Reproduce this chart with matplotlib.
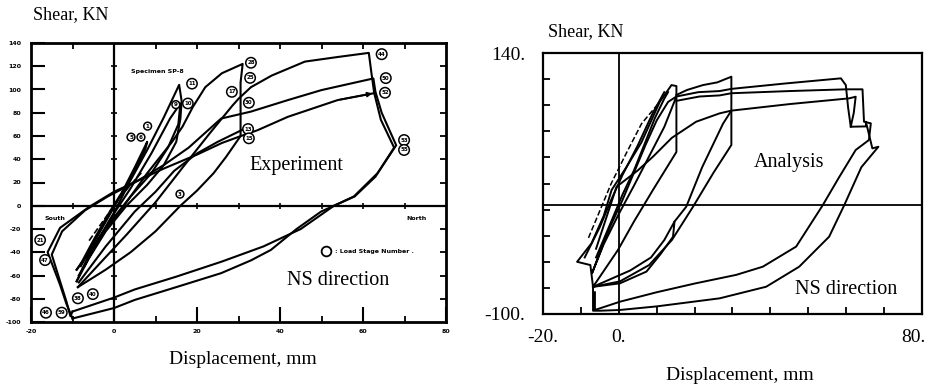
import matplotlib.pyplot as plt
import matplotlib.transforms as mtransforms
import numpy as np

plt.rcParams['font.family'] = ['Liberation Serif', 'DejaVu Serif']

# ---------------- experiment (left) : displacement mm, shear kN ----------------
exp_c1 = [(-8, -50), (-5, -30), (-1, -5), (2, 12), (5, 33), (8, 55), (7.5, 48), (5, 30),
          (1, 5), (-3, -20), (-8, -52)]
exp_c2 = [(-8.5, -60), (-5, -38), (0, -6), (4, 22), (8, 48), (12, 76), (15.7, 104), (16.3, 90),
          (16, 75), (15, 55), (12, 35), (8, 18), (3, 0), (-2, -22), (-6, -45), (-9, -65)]
exp_c3 = [(-9, -65), (-6, -42), (-1, -12), (4, 15), (9, 45), (13.5, 75), (16, 88), (15.5, 70),
          (13, 50), (9, 28), (4, 8), (0, -10), (-5, -35), (-9, -55)]
exp_c4 = [(-9, -55), (-4, -30), (2, -2), (8, 28), (14, 55), (16.5, 68), (19, 85), (22, 102),
          (26, 114), (31, 122), (30.5, 106), (30.5, 90), (30.5, 75), (30.5, 60), (27, 42),
          (24, 28), (20, 13), (16, 0), (10, -22), (4, -40), (-2, -55), (-8.7, -70)]
exp_c5 = [(-8.7, -70), (-3, -48), (3, -25), (10, 3), (17, 35), (23, 62), (28.5, 86), (30, 92),
          (33, 102), (38, 112), (46, 124), (54, 128), (61.4, 131.5), (62, 115), (62.7, 97),
          (64.3, 74), (67.5, 50), (63, 25), (58, 8), (53, 0), (45, -20), (36, -35), (26, -48),
          (15, -61), (5, -72), (0, -79), (-10, -91)]
exp_c6 = [(-10, -91), (-10.5, -95), (-11.5, -82), (-13, -65), (-15, -42), (-12.5, -22), (-7, -4),
          (-1.5, 8), (5, 20), (12, 35), (18, 50), (25.8, 75), (33, 81), (42, 91), (50, 99.5),
          (62.5, 109.5), (63, 98), (64.5, 80), (66, 68), (68, 52), (63.5, 28), (57.8, 8), (53, 0),
          (49.9, -5), (44, -20), (37.8, -38), (33, -47), (25.8, -58), (15, -70), (5, -81),
          (0, -88), (-10, -97)]
exp_c7 = [(-10, -97), (-11.5, -84), (-13, -68), (-16, -40), (-13, -19), (-6, -1), (0, 12),
          (6, 22), (12, 32), (20, 44), (26, 54), (30.6, 60), (34.6, 65), (41.9, 76.5),
          (53.9, 90.9), (62.9, 97)]
exp_c8 = [(-8.5, -66), (-2, -35), (5, -5), (10, 12), (14.5, 30), (20, 45), (25, 55), (31.3, 66)]
exp_dash = [(-6, -30), (-2, -10), (1, 5), (4, 18), (7, 30)]

stage_labels = ['11', '9', '10', '1', '5', '6', '28', '25', '17', '30', '13', '15', '44', '50',
                '52', '53', '55', '3', '21', '47', '38', '40', '46', '59']
stage_xy = [(18.8, 105), (14.9, 87), (17.8, 88), (8.1, 68.5), (4.1, 59), (6.5, 59), (33, 123),
            (32.8, 110), (28.4, 98), (32.5, 88.6), (32.3, 66), (32.5, 58), (64.5, 130.4),
            (65.5, 109.8), (65.3, 97.2), (69.9, 56.5), (69.9, 48), (15.9, 10), (-17.8, -29.5),
            (-16.6, -46.7), (-8.7, -79.6), (-5.1, -76), (-16.4, -92), (-12.6, -92)]

exp_xticks = [-20, 0, 20, 40, 60, 80]
exp_yticks = [-100, -80, -60, -40, -20, 0, 20, 40, 60, 80, 100, 120, 140]

# ---------------- analysis (right) ----------------
ana_s1 = [(-6.8, -75), (-7.5, -55), (-11, -52), (-7.2, -35), (-4, -10), (-1.9, 14), (2, 35),
          (6, 58), (10.8, 95), (13.9, 110.5), (15.2, 109.6), (15.2, 80), (15.2, 49), (9, 14),
          (4, -15), (-0.2, -41), (-6.8, -75)]
ana_s2 = [(-7, -62), (-3, -25), (1, 5), (4, 30), (7, 55), (10, 78), (13, 95), (15.2, 100),
          (12, 72), (8, 45), (4, 18), (0, -8), (-4, -36), (-7, -62)]
ana_s3 = [(-6, -48), (-2, -15), (1, 10), (4, 32), (7, 58), (9.5, 80), (12, 98), (13, 104)]
ana_s4 = [(-9, -48), (-5, -20), (-2, 5), (1, 28), (5, 55), (9, 85), (12, 104)]
ana_dense = [(-8, -30), (-5, -5), (-2, 20), (2, 48), (6, 75), (10.8, 95)]
ana_up30 = [(15.2, 101.4), (18, 106), (22.2, 110.5), (26, 113), (29.7, 118.2), (29.7, 90),
            (29.7, 55.4), (25, 30), (19.6, -1.3), (14, -32), (8, -55), (0.3, -70), (-6.8, -75)]
ana_loop = [(-6.8, -75), (0.3, -71.8), (7.3, -61), (11, -45), (14.3, -29), (14.7, -15), (12, -32),
            (8.5, -48), (3, -60), (-6.8, -75)]
ana_rel = [(14.7, -15), (17.8, -1.3), (22, 35), (27.5, 75), (29.7, 87)]
ana_top = [(15.2, 100), (21, 104), (26.6, 105), (29.7, 107), (44, 112), (58.6, 116.7),
           (59.9, 110.5), (60.5, 90), (61.2, 72.2), (65.2, 72.5), (65.2, 76.8), (66.9, 52.3),
           (68.5, 53.8), (64, 35), (59.5, 0.2), (55.5, -28.9), (47.6, -56.5), (38.9, -74.9),
           (26.6, -85.6), (10, -93), (0.3, -96.3), (-5, -97), (-6.8, -97), (-6.8, -75)]
ana_mid = [(15.2, 96), (21.3, 100), (26.6, 101), (29.7, 103), (45, 105), (59.9, 106.6),
           (64.3, 106.6), (64.7, 76.8), (66.5, 75.3), (66, 60), (62.5, 50.8), (58, 25),
           (53.8, 0), (46.8, -38), (38, -56.5), (31, -64), (20, -72), (10, -80), (0.3, -88.7),
           (-6.3, -96.3), (-6.3, -80)]
ana_low = [(-6, -40), (-0.6, 17), (5, 32), (9, 44.6), (14, 62), (20.4, 76.8), (26.6, 84.5),
           (29.7, 87), (45, 93), (60.8, 98.3), (62.5, 99.8), (62, 85), (61.2, 72.2)]

ana_yticks = [-100, -76, -52, -28, -4, 20, 44, 68, 92, 116, 140]
ana_xticks = [-20, -10, 0, 10, 20, 30, 40, 50, 60, 70, 80]


def draw(ax, pts, lw, ls='-'):
    a = np.array(pts)
    ax.plot(a[:, 0], a[:, 1], color='black', lw=lw, ls=ls, solid_joinstyle='round')


fig = plt.figure(figsize=(9.32, 3.87), dpi=100)

# ======================  LEFT  ======================
ax1 = fig.add_axes([31 / 932, 1 - 322 / 387, 415 / 932, 279 / 387])
ax1.set_xlim(-20, 80)
ax1.set_ylim(-100, 140)
ax1.axhline(0, color='black', lw=1.6)
ax1.axvline(0, color='black', lw=1.6)
for br in [exp_c1, exp_c2, exp_c3, exp_c4, exp_c5, exp_c6, exp_c7, exp_c8]:
    draw(ax1, br, 1.5)
draw(ax1, exp_dash, 1.2, '--')
g = np.array(exp_c7)
ax1.annotate('', xy=g[-1], xytext=g[-2],
             arrowprops=dict(arrowstyle='-|>', color='black', lw=1.2, mutation_scale=7))

for s in ax1.spines.values():
    s.set_linewidth(2)
ax1.set_xticks(exp_xticks)
ax1.set_xticklabels([str(v) for v in exp_xticks])
ax1.set_xticks([v + 10 for v in exp_xticks[:-1]], minor=True)
ax1.set_yticks(exp_yticks)
ax1.set_yticklabels([str(v) for v in exp_yticks])
ax1.tick_params(axis='x', which='major', direction='in', length=11, width=1.5, pad=5)
ax1.tick_params(axis='x', which='minor', direction='in', length=4, width=1.3)
ax1.tick_params(axis='y', which='major', direction='in', length=10, width=1.5, pad=7)
for lbl in ax1.get_xticklabels() + ax1.get_yticklabels():
    lbl.set_fontsize(4.5)
    lbl.set_fontweight('bold')
    lbl.set_family('DejaVu Sans')
top = ax1.secondary_xaxis('top')
top.set_xticks(list(range(-10, 80, 10)))
top.set_xticklabels([])
top.tick_params(direction='in', length=4, width=1.3)
right = ax1.secondary_yaxis('right')
right.set_yticks(exp_yticks[1:-1])
right.set_yticklabels([])
right.tick_params(direction='in', length=4, width=1.3)
# little ticks along the zero lines
zx = np.arange(-10, 80, 10)
ax1.plot(zx, np.zeros_like(zx), ls='none', marker='|', ms=5, mew=1.2, color='black')
zy = np.array([v for v in exp_yticks[1:-1] if v != 0])
ax1.plot(np.zeros_like(zy), zy, ls='none', marker='_', ms=5, mew=1.2, color='black')

for lab, (x, y) in zip(stage_labels, stage_xy):
    ax1.text(x, y, lab, fontsize=4, fontweight='bold', family='DejaVu Sans',
             ha='center', va='center',
             bbox=dict(boxstyle='circle,pad=0.25', fc='white', ec='black', lw=1.1))

small = dict(fontsize=4.5, fontweight='bold', family='DejaVu Sans', va='center')
ax1.text(10.5, 115.8, 'Specimen SP-8', ha='center', **small)
ax1.text(-14.3, -10.6, 'South', ha='center', **small)
ax1.text(72.9, -10.6, 'North', ha='center', **small)
ax1.plot([51.1], [-39], marker='o', ms=7, mfc='white', mec='black', mew=1.3, ls='none')
ax1.text(53.3, -39, ': Load Stage Number .', ha='left', **small)
ax1.text(44, 35, 'Experiment', fontsize=14.5, ha='center', va='center')
ax1.text(54, -64.7, 'NS direction', fontsize=14.5, ha='center', va='center')

fig.text(33 / 932, 1 - 15 / 387, 'Shear, KN', fontsize=13, ha='left', va='center')
fig.text(243 / 932, 1 - 360 / 387, 'Displacement, mm', fontsize=14, ha='center', va='center')

# ======================  RIGHT  ======================
ax2 = fig.add_axes([543 / 932, 1 - 314 / 387, 379 / 932, 261 / 387])
ax2.set_xlim(-20, 80)
ax2.set_ylim(-100, 140)
ax2.axhline(0, color='black', lw=1.3)
ax2.axvline(0, color='black', lw=1.3)
for br in [ana_s1, ana_s2, ana_s3, ana_s4, ana_up30, ana_loop, ana_rel, ana_top, ana_mid, ana_low]:
    draw(ax2, br, 1.4)
draw(ax2, ana_dense, 1.1, '--')

for s in ax2.spines.values():
    s.set_linewidth(1.6)
ax2.set_yticks(ana_yticks)
ax2.set_yticklabels(['-100.'] + [''] * (len(ana_yticks) - 2) + ['140.'])
ax2.set_xticks(ana_xticks)
ax2.set_xticklabels(['-20.' if v == -20 else '0.' if v == 0 else '80.' if v == 80 else ''
                     for v in ana_xticks])
ax2.tick_params(axis='y', direction='in', length=5, width=1.3, pad=13, labelsize=14)
ax2.tick_params(axis='x', direction='in', length=5, width=1.3, pad=11, labelsize=14)
# the last x label sits a little inside the edge in the original
last = ax2.get_xticklabels()[-1]
last.set_transform(last.get_transform()
                   + mtransforms.ScaledTranslation(-6 / 72, 0, fig.dpi_scale_trans))

ax2.text(45, 38.9, 'Analysis', fontsize=14.5, ha='center', va='center')
ax2.text(59.9, -77.9, 'NS direction', fontsize=14.5, ha='center', va='center')

fig.text(548 / 932, 1 - 32 / 387, 'Shear, KN', fontsize=13, ha='left', va='center')
fig.text(740 / 932, 1 - 375 / 387, 'Displacement, mm', fontsize=14, ha='center', va='center')

fig.savefig('out.png', dpi=100)
